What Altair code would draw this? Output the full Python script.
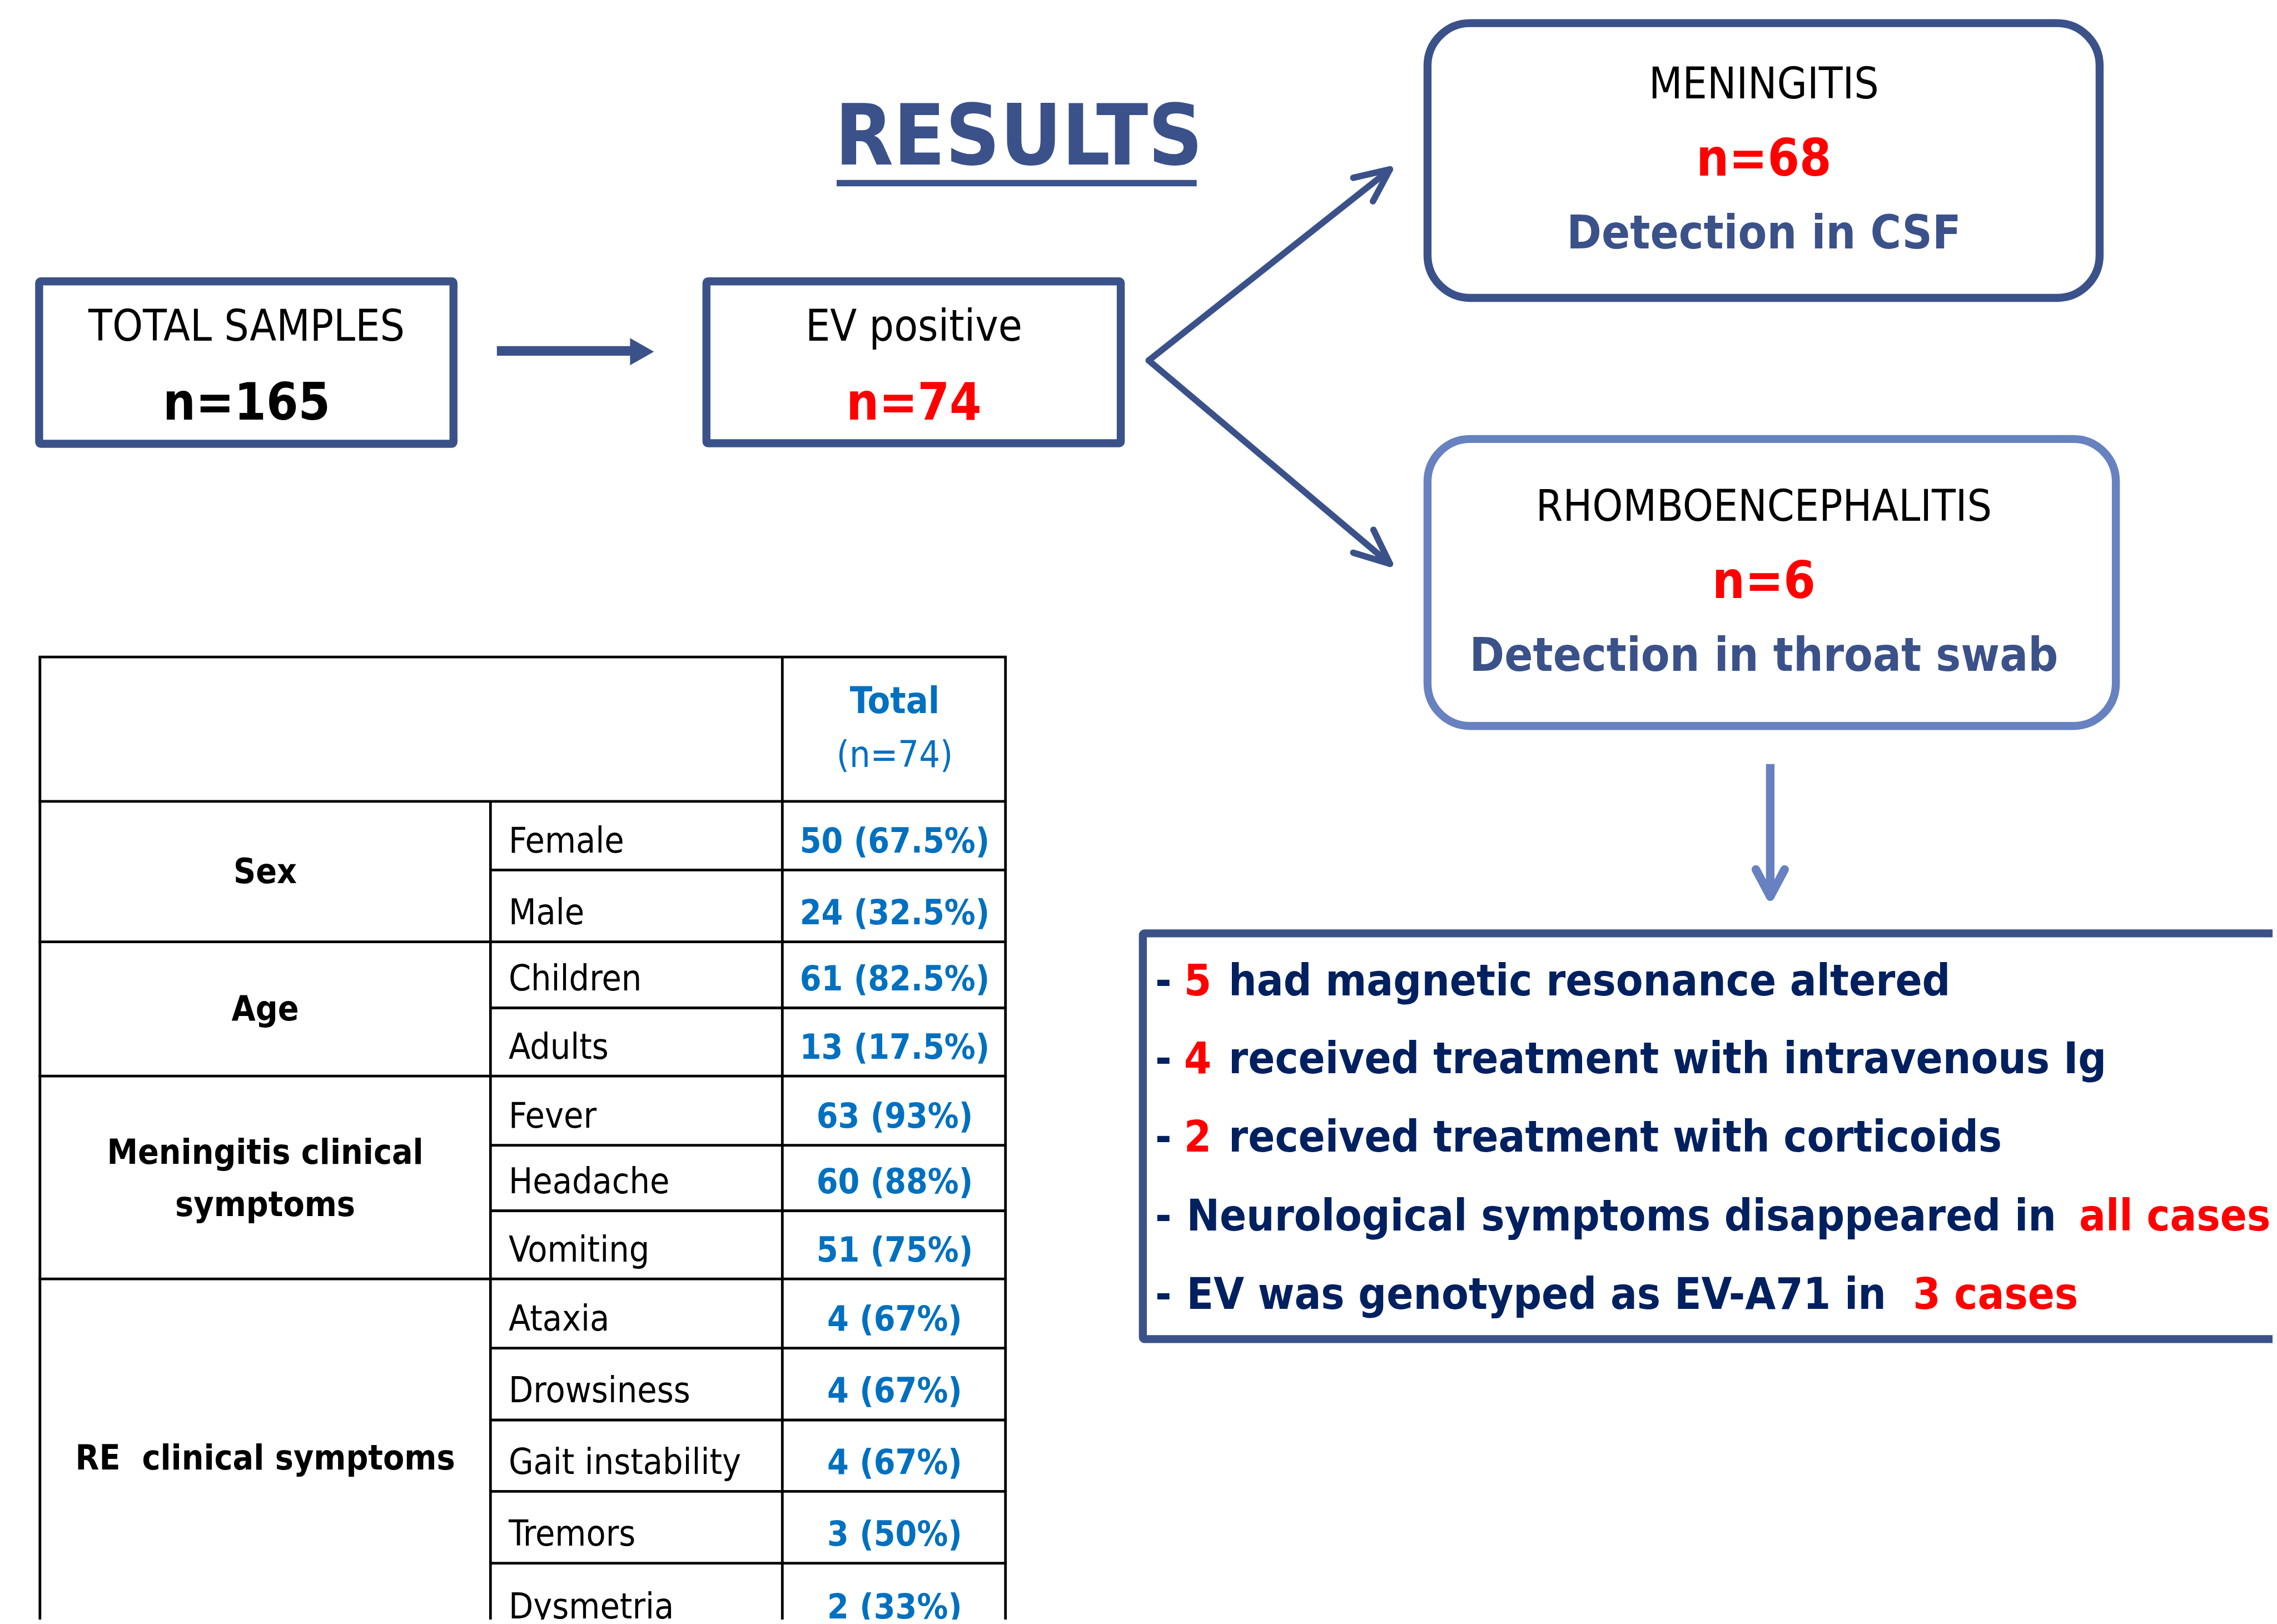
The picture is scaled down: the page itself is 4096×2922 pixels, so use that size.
import altair as alt
import pandas as pd

K = 0.958  # output pixels per reference pixel
FONT = "DejaVu Sans Condensed, DejaVu Sans, sans-serif"

DARK = "#3B5189"
LIGHT = "#6781C1"
NAVY = "#002060"
RED = "#FF0000"
TBLUE = "#0070C0"
BLACK = "#000000"

# ---------------- data ----------------
title_text = "RESULTS"
flow_titles = ["TOTAL SAMPLES", "EV positive", "MENINGITIS", "RHOMBOENCEPHALITIS"]
flow_counts = ["n=165", "n=74", "n=68", "n=6"]
flow_sites = ["", "", "Detection in CSF", "Detection in throat swab"]

table_header = ["Total", "(n=74)"]
group_names = [["Sex"], ["Age"], ["Meningitis clinical", "symptoms"], ["RE\u00a0 clinical symptoms"]]
group_sizes = [2, 2, 3, 5]
row_labels = ["Female", "Male", "Children", "Adults", "Fever", "Headache", "Vomiting",
              "Ataxia", "Drowsiness", "Gait instability", "Tremors", "Dysmetria"]
row_values = ["50 (67.5%)", "24 (32.5%)", "61 (82.5%)", "13 (17.5%)", "63 (93%)", "60 (88%)",
              "51 (75%)", "4 (67%)", "4 (67%)", "4 (67%)", "3 (50%)", "2 (33%)"]

findings = [
    [("-", "n"), ("5", "r"), ("had magnetic resonance altered", "n")],
    [("-", "n"), ("4", "r"), ("received treatment with intravenous Ig", "n")],
    [("-", "n"), ("2", "r"), ("received treatment with corticoids", "n")],
    [("-", "n"), ("Neurological symptoms disappeared in", "n"), ("all cases", "r")],
    [("-", "n"), ("EV was genotyped as EV-A71 in", "n"), ("3 cases", "r")],
]

# ---------------- layout (reference pixels; font sizes in output px) ----------------
flow_cx = [463, 1716, 3312, 3312]
flow_title_y = [640, 640, 185, 978]
flow_count_y = [788, 788, 330, 1123]
flow_site_y = [0, 0, 467, 1260]

row_edges = [1505, 1634, 1769, 1893, 2021, 2151, 2274, 2402, 2532, 2667, 2801, 2936, 3073]
T_LEFT, T_C1, T_C2, T_RIGHT, T_TOP = 75, 921, 1469, 1888, 1234

find_x = [[2169, 2223, 2307], [2169, 2223, 2307], [2169, 2223, 2307],
          [2169, 2228, 3904], [2169, 2228, 3592]]
find_y = [1869, 2016, 2163, 2311, 2458]

# ---------------- build tables ----------------
texts = []


def add_text(x, y, t, color, size, weight="normal", align="center"):
    texts.append(dict(x=x, y=y, text=t, color=color, size=size, weight=weight, align=align))


add_text(1913, 309, title_text, DARK, 152, "bold")
for i in range(4):
    add_text(flow_cx[i], flow_title_y[i], flow_titles[i], BLACK, 78)
    add_text(flow_cx[i], flow_count_y[i], flow_counts[i], RED if i > 0 else BLACK, 92, "bold")
    if flow_sites[i]:
        add_text(flow_cx[i], flow_site_y[i], flow_sites[i], DARK, 84, "bold")

add_text(1680, 1339, table_header[0], TBLUE, 66, "bold")
add_text(1680, 1441, table_header[1], TBLUE, 66, "normal")
for i, (lab, val) in enumerate(zip(row_labels, row_values)):
    base = row_edges[i + 1] - 33
    add_text(955, base, lab, BLACK, 64, "normal", "left")
    add_text(1680, base, val, TBLUE, 62, "bold")

start = 0
for names, n in zip(group_names, group_sizes):
    c = (row_edges[start] + row_edges[start + n]) / 2
    if len(names) == 1:
        add_text(498, c + 22, names[0], BLACK, 62, "bold")
    else:
        add_text(498, c - 26, names[0], BLACK, 62, "bold")
        add_text(498, c + 72, names[1], BLACK, 62, "bold")
    start += n

for segs, xs, y in zip(findings, find_x, find_y):
    for (t, c), x in zip(segs, xs):
        add_text(x, y, t, RED if c == "r" else NAVY, 79, "bold", "left")

tdf = pd.DataFrame(texts)

# rules (lines)
rules_butt = []
rules_round = []


def add_rule(lst, x, y, x2, y2, color, w):
    lst.append(dict(x=x, y=y, x2=x2, y2=y2, color=color, w=w * K))


# underline of title
add_rule(rules_butt, 1571, 344, 2247, 344, DARK, 12)
# table
for yy in [T_TOP, row_edges[0]]:
    add_rule(rules_butt, T_LEFT - 2.5, yy, T_RIGHT + 2.5, yy, BLACK, 5)
cum = [0]
for n in group_sizes:
    cum.append(cum[-1] + n)
for i, yy in enumerate(row_edges[1:], start=1):
    if i in cum:
        add_rule(rules_butt, T_LEFT - 2.5, yy, T_RIGHT + 2.5, yy, BLACK, 5)
    else:
        add_rule(rules_butt, T_C1, yy, T_RIGHT + 2.5, yy, BLACK, 5)
for xx in [T_LEFT, T_C2, T_RIGHT]:
    add_rule(rules_butt, xx, T_TOP, xx, row_edges[-1], BLACK, 5)
add_rule(rules_butt, T_C1, row_edges[0], T_C1, row_edges[-1], BLACK, 5)
# horizontal arrow shaft
add_rule(rules_butt, 933, 659, 1186, 659, DARK, 18)
# diagonal arrows
add_rule(rules_round, 2157, 677, 2604, 323, DARK, 12)
add_rule(rules_round, 2610, 318, 2541, 334, DARK, 12)
add_rule(rules_round, 2610, 318, 2578, 378, DARK, 12)
add_rule(rules_round, 2157, 677, 2604, 1054, DARK, 12)
add_rule(rules_round, 2610, 1059, 2541, 1038, DARK, 12)
add_rule(rules_round, 2610, 1059, 2579, 995, DARK, 12)
# down arrow
add_rule(rules_butt, 3324, 1435, 3324, 1670, LIGHT, 16)
add_rule(rules_round, 3324, 1684, 3297, 1633, LIGHT, 16)
add_rule(rules_round, 3324, 1684, 3351, 1633, LIGHT, 16)

rb = pd.DataFrame(rules_butt)
rr = pd.DataFrame(rules_round)

# boxes
square_boxes = pd.DataFrame([
    dict(x=73.5, x2=851.5, y=528.5, y2=833.5, color=DARK, w=15 * K),
    dict(x=1326.5, x2=2104.5, y=528.5, y2=832.5, color=DARK, w=15 * K),
    dict(x=2146, x2=4320, y=1753, y2=2515, color=DARK, w=15 * K),
])
round_boxes = pd.DataFrame([
    dict(x=2680.5, x2=3942.5, y=43.5, y2=559.5, color=DARK, w=15 * K),
    dict(x=2680.5, x2=3973, y=824.5, y2=1363.5, color=LIGHT, w=15 * K),
])

heads = pd.DataFrame([dict(x=1205.5, y=660.5)])

# ---------------- scales ----------------
W, H = 4080, 2906
XS = alt.Scale(domain=[8 / K, (W + 8) / K], nice=False, zero=False)
YS = alt.Scale(domain=[8 / K, (H + 8) / K], nice=False, zero=False, reverse=True)


def X(f="x"):
    return alt.X(f + ":Q", scale=XS, axis=None)


def Y(f="y"):
    return alt.Y(f + ":Q", scale=YS, axis=None)


layers = []

for df, r in [(square_boxes, 3 * K), (round_boxes, 80 * K)]:
    layers.append(
        alt.Chart(df).mark_rect(cornerRadius=r, fillOpacity=0, clip=True).encode(
            x=X(), x2="x2:Q", y=Y(), y2="y2:Q",
            stroke=alt.Stroke("color:N", scale=None),
            strokeWidth=alt.StrokeWidth("w:Q", scale=None),
        )
    )

for df, cap in [(rb, "butt"), (rr, "round")]:
    layers.append(
        alt.Chart(df).mark_rule(strokeCap=cap, clip=True).encode(
            x=X(), y=Y(), x2="x2:Q", y2="y2:Q",
            color=alt.Color("color:N", scale=None),
            strokeWidth=alt.StrokeWidth("w:Q", scale=None),
        )
    )

head_s = 51 * K / 2
layers.append(
    alt.Chart(heads).mark_point(
        shape="M-0.88,-1L0.88,0L-0.88,1Z", filled=True, color=DARK, opacity=1,
        strokeWidth=0, size=(2 * head_s) ** 2,
    ).encode(x=X(), y=Y())
)

for (w, a), sub in tdf.groupby(["weight", "align"]):
    layers.append(
        alt.Chart(sub).mark_text(align=a, baseline="alphabetic", fontWeight=w, font=FONT).encode(
            x=X(), y=Y(), text="text:N",
            color=alt.Color("color:N", scale=None),
            size=alt.Size("size:Q", scale=None),
        )
    )

chart = alt.layer(*layers).properties(
    width=W, height=H,
    autosize=alt.AutoSizeParams(type="none"),
    padding=0, background="white",
).configure_view(strokeWidth=0)

chart.save("out.html", embed_options={"renderer": "svg", "actions": False})
